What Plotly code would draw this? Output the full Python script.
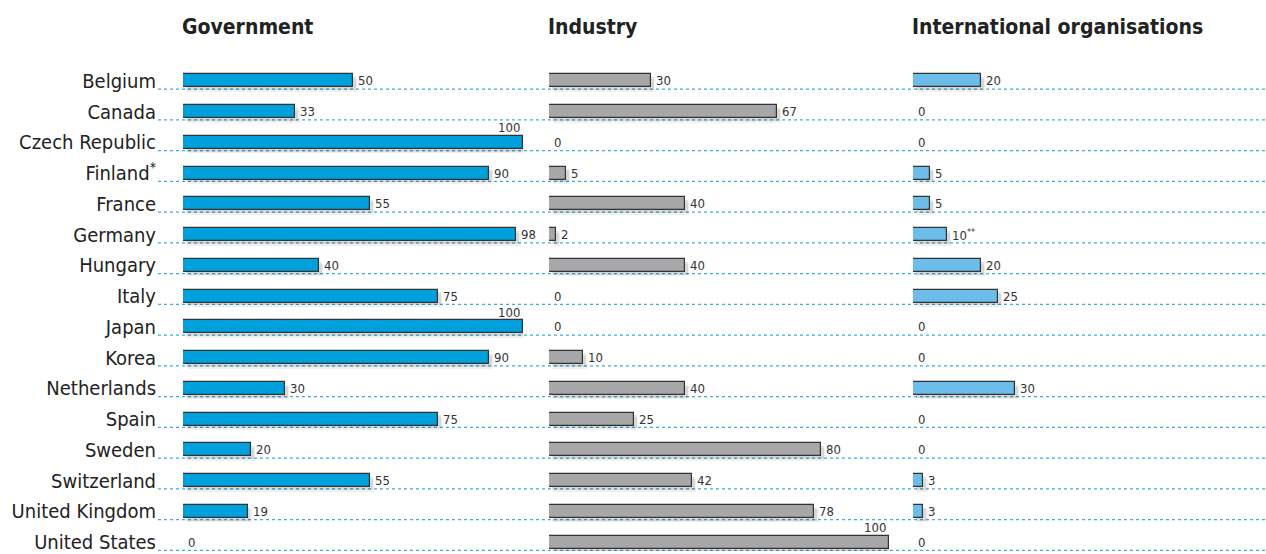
import plotly.graph_objects as go

W, H = 1266, 554

countries = ["Belgium", "Canada", "Czech Republic", "Finland<sup>*</sup>", "France", "Germany",
             "Hungary", "Italy", "Japan", "Korea", "Netherlands", "Spain", "Sweden",
             "Switzerland", "United Kingdom", "United States"]
panels = ["Government", "Industry", "International organisations"]
government = [50, 33, 100, 90, 55, 98, 40, 75, 100, 90, 30, 75, 20, 55, 19, 0]
industry = [30, 67, 0, 5, 40, 2, 40, 0, 0, 10, 40, 25, 80, 42, 78, 100]
international = [20, 0, 0, 5, 5, 10, 20, 25, 0, 0, 30, 0, 0, 3, 3, 0]
international_notes = ["", "", "", "", "", "<sup>**</sup>", "", "", "", "", "", "", "", "", "", ""]

series = [government, industry, international]
notes = [[""] * len(countries), [""] * len(countries), international_notes]
colors = ["#00a0dc", "#a7a7aa", "#6cbde9"]
domains = [(183, 523), (549, 889), (913, 1253)]

FONT = "DejaVu Sans Condensed, DejaVu Sans, sans-serif"
ypos = list(range(len(countries)))
BW = 0.42

fig = go.Figure()
for k, (vals, col) in enumerate(zip(series, colors)):
    xa = "x" if k == 0 else f"x{k+1}"
    # soft shadow
    for alpha, dx, dy in [(0.06, 1.3, 0.15), (0.10, 0.8, 0.09)]:
        fig.add_trace(go.Bar(
            x=vals, y=ypos, base=dx, orientation="h", width=BW, offset=-BW / 2 + dy,
            marker=dict(color=f"rgba(0,0,0,{alpha})", line=dict(width=0)),
            xaxis=xa, yaxis="y", hoverinfo="skip", showlegend=False))
    fig.add_trace(go.Bar(
        x=vals, y=ypos, orientation="h", width=BW, offset=-BW / 2,
        marker=dict(color=col, line=dict(color="#333333", width=1.2)),
        xaxis=xa, yaxis="y", showlegend=False))

layout = dict(
    width=W, height=H, margin=dict(l=0, r=0, t=60, b=0),
    paper_bgcolor="white", plot_bgcolor="white", bargap=0, barmode="overlay",
    font=dict(family=FONT, color="#222222"),
    yaxis=dict(range=[15.29, -0.68], tickmode="array", tickvals=ypos, ticktext=countries,
               tickfont=dict(family=FONT, size=20, color="#222222"), ticks="",
               ticklabelstandoff=26, ticklabeloverflow="allow", showgrid=False,
               zeroline=False, showline=False, anchor="x"),
)
for k, (a, b) in enumerate(domains):
    key = "xaxis" if k == 0 else f"xaxis{k+1}"
    layout[key] = dict(domain=[a / W, b / W], range=[0, 100], showgrid=False,
                       zeroline=False, showticklabels=False, showline=False,
                       anchor="y", fixedrange=True)
fig.update_layout(**layout)

# value labels
for k, vals in enumerate(series):
    xa = "x" if k == 0 else f"x{k+1}"
    for i, (v, n) in enumerate(zip(vals, notes[k])):
        if v >= 100:
            fig.add_annotation(text=f"{v}{n}", x=v, y=i, xref=xa, yref="y",
                               xanchor="right", yanchor="bottom", xshift=-1, yshift=5,
                               showarrow=False, font=dict(family=FONT, size=13, color="#333333"))
        else:
            fig.add_annotation(text=f"{v}{n}", x=v, y=i, xref=xa, yref="y",
                               xanchor="left", yanchor="middle", xshift=3, yshift=0,
                               showarrow=False, font=dict(family=FONT, size=13, color="#333333"))

# dotted row lines
for i in ypos:
    fig.add_shape(type="line", xref="paper", yref="y", x0=158 / W, x1=1.0,
                  y0=i + 0.27, y1=i + 0.27, line=dict(color="#3aaee0", width=1.3, dash="dot"),
                  layer="below")

# panel headers
for k, name in enumerate(panels):
    fig.add_annotation(text=f"<b>{name}</b>", xref="paper", yref="paper",
                       x=domains[k][0] / W, y=1 + 33 / (H - 60), xanchor="left", yanchor="middle",
                       xshift=-3, showarrow=False, font=dict(family=FONT, size=21, color="#222222"))

fig.write_html("out.html", config={"displayModeBar": False},
               post_script="document.body.style.margin='0';")
